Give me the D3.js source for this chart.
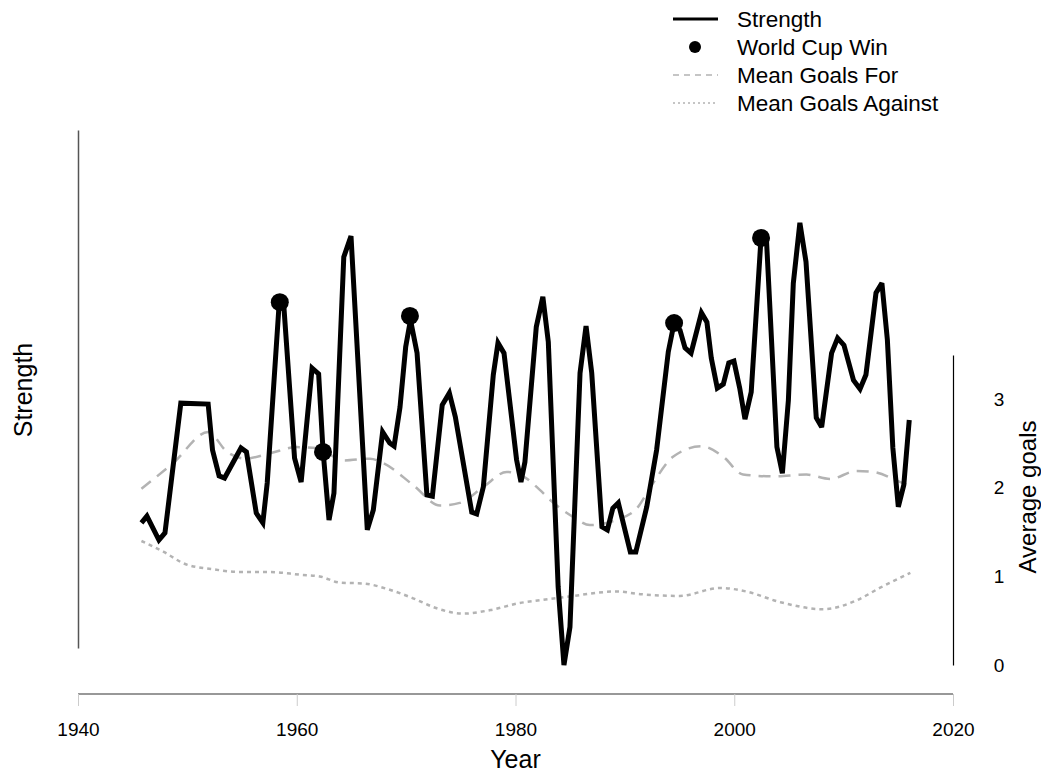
<!DOCTYPE html>
<html>
<head>
<meta charset="utf-8">
<script src="https://cdn.jsdelivr.net/npm/d3@7"></script>
<style>
  html, body { margin: 0; padding: 0; background: #fff; }
  svg { display: block; font-family: "Liberation Sans", Arial, sans-serif; }
</style>
</head>
<body>
<svg id="chart" width="1041" height="772"></svg>
<script>
// ---- Data ----
const strengthYears = [1945.8,1946.3,1947.4,1947.95,1949.4,1951.9,1952.3,1952.9,1953.4,1954.9,1955.4,1956.3,1956.9,1957.3,1958.4,1958.8,1959.8,1960.4,1961.4,1962.0,1962.4,1962.95,1963.4,1964.3,1964.96,1966.45,1967.0,1967.85,1968.5,1968.9,1969.44,1969.96,1970.4,1971.0,1971.9,1972.4,1973.3,1973.95,1974.5,1976.0,1976.45,1977.06,1977.97,1978.4,1978.95,1980.1,1980.5,1980.86,1981.9,1982.5,1983.0,1983.9,1984.43,1984.98,1985.9,1986.45,1986.97,1987.9,1988.4,1988.9,1989.4,1990.5,1991.0,1992.0,1992.9,1993.97,1994.5,1995.04,1995.5,1996.05,1997.0,1997.5,1997.9,1998.45,1999.0,1999.5,1999.97,2000.5,2000.98,2001.55,2002.45,2002.96,2003.9,2004.4,2004.95,2005.4,2006.0,2006.56,2007.5,2007.99,2008.9,2009.45,2010.03,2010.9,2011.5,2012.04,2012.96,2013.5,2014.0,2014.5,2015.0,2015.5,2016.0];
const strengthValues = [32.1,33.6,28.2,29.8,59.1,58.9,48.5,42.7,42.2,49.0,48.1,34.3,32.1,41.1,81.9,81.7,46.7,41.3,67.0,65.7,48.5,32.7,38.8,92.1,96.8,30.5,35.0,52.6,50.1,49.4,58.2,71.8,77.9,70.4,38.4,38.1,58.7,61.4,56.0,34.5,34.1,40.2,65.5,72.7,70.4,46.3,41.3,45.8,76.3,83.1,72.9,17.6,0.0,8.6,65.9,76.5,65.9,31.2,30.5,35.4,36.6,25.5,25.5,35.7,48.5,70.7,77.2,75.6,71.6,70.4,79.5,77.4,69.3,62.5,63.4,68.2,68.6,62.5,55.5,61.6,96.4,95.3,49.2,43.3,59.8,86.2,99.8,91.0,55.8,53.7,70.4,73.8,72.2,64.3,62.3,65.5,84.0,86.2,73.4,49.0,35.7,40.6,55.3];

const winYears = [1958.45, 1962.4, 1970.35, 1994.5, 2002.45];
const winStrength = [81.9, 48.1, 78.8, 77.2, 96.4];

const goalsForYears = [1945.8,1948.7,1951.9,1953.6,1955.3,1957.55,1960.0,1961.8,1964.3,1966.7,1967.9,1970.66,1973.1,1974.9,1977.06,1979.2,1980.7,1982.2,1983.2,1985.3,1986.8,1989.25,1991.1,1992.3,1994.4,1997.0,1999.0,2000.8,2003.6,2006.6,2008.75,2011.2,2012.7,2015.5,2016.0];
const goalsForValues = [1.99,2.28,2.63,2.41,2.33,2.39,2.46,2.45,2.31,2.33,2.28,2.03,1.80,1.83,2.01,2.18,2.13,1.98,1.86,1.67,1.58,1.64,1.77,2.00,2.35,2.47,2.35,2.15,2.13,2.15,2.10,2.19,2.18,2.05,2.03];

const goalsAgainstYears = [1945.8,1947.8,1949.8,1952.4,1954.8,1957.55,1960.3,1962.1,1963.95,1966.1,1968.5,1970.7,1972.8,1975.2,1977.7,1980.4,1982.2,1984.7,1989.25,1991.4,1995.0,1998.7,2001.1,2004.2,2008.1,2011.2,2013.3,2016.1];
const goalsAgainstValues = [1.40,1.28,1.14,1.08,1.05,1.05,1.02,1.00,0.93,0.92,0.85,0.75,0.64,0.58,0.62,0.70,0.73,0.77,0.83,0.80,0.78,0.87,0.83,0.71,0.63,0.73,0.87,1.04];

const xTicks = [1940, 1960, 1980, 2000, 2020];
const goalTicks = [0, 1, 2, 3];
const legendLabels = ["Strength", "World Cup Win", "Mean Goals For", "Mean Goals Against"];

// ---- Drawing ----
const svg = d3.select("#chart");
const x = d3.scaleLinear().domain([1940, 2020]).range([78, 953]);
const yS = d3.scaleLinear().domain([0, 100]).range([665, 222]);
const yG = d3.scaleLinear().domain([0, 3.5]).range([665, 355]);

const gray = "#b3b3b3";
const fontFam = "Liberation Sans, Arial, sans-serif";

// goals lines
const goalsFor = goalsForYears.map((yr, i) => [yr, goalsForValues[i]]);
const goalsAgainst = goalsAgainstYears.map((yr, i) => [yr, goalsAgainstValues[i]]);
const lineG = d3.line().x(d => x(d[0])).y(d => yG(d[1])).curve(d3.curveMonotoneX);

svg.append("path").datum(goalsFor).attr("d", lineG)
  .attr("fill", "none").attr("stroke", gray).attr("stroke-width", 2.5)
  .attr("stroke-dasharray", "12,8");
svg.append("path").datum(goalsAgainst).attr("d", lineG)
  .attr("fill", "none").attr("stroke", gray).attr("stroke-width", 2.5)
  .attr("stroke-dasharray", "4,4");

// strength line
const strength = strengthYears.map((yr, i) => [yr, strengthValues[i]]);
svg.append("path").datum(strength)
  .attr("d", d3.line().x(d => x(d[0])).y(d => yS(d[1])))
  .attr("fill", "none").attr("stroke", "#000").attr("stroke-width", 5)
  .attr("stroke-linejoin", "miter").attr("stroke-miterlimit", 3);

// world cup wins
svg.selectAll("circle.win").data(winYears.map((yr, i) => [yr, winStrength[i]]))
  .enter().append("circle").attr("class", "win")
  .attr("cx", d => x(d[0])).attr("cy", d => yS(d[1])).attr("r", 9)
  .attr("fill", "#000");

// x axis
const xAxis = svg.append("g").attr("transform", "translate(0,694)")
  .call(d3.axisBottom(x).tickValues(xTicks).tickFormat(d3.format("d")).tickSize(12).tickPadding(17));
xAxis.select(".domain").attr("stroke", "#333").attr("stroke-width", 1.2).attr("d", "M78,0H953");
xAxis.selectAll(".tick line").attr("stroke", "#ccc");
xAxis.selectAll(".tick text").attr("font-size", 19).attr("fill", "#000")
  .attr("font-family", fontFam);

svg.append("text").attr("x", (78 + 953) / 2).attr("y", 768)
  .attr("text-anchor", "middle").attr("font-size", 25).text("Year");

// left axis (no ticks)
const yLeft = d3.scaleLinear().domain([0, 1]).range([648, 130]);
const leftAxis = svg.append("g").attr("transform", "translate(78,0)")
  .call(d3.axisLeft(yLeft).tickValues([]).tickSizeOuter(0));
leftAxis.select(".domain").attr("stroke", "#555").attr("stroke-width", 1.5);
svg.append("text").attr("transform", "translate(32,390) rotate(-90)")
  .attr("text-anchor", "middle").attr("font-size", 25).text("Strength");

// right axis
const rightAxis = svg.append("g").attr("transform", "translate(953,0)")
  .call(d3.axisRight(yG).tickValues(goalTicks).tickFormat(d3.format("d")).tickSize(0).tickPadding(40).tickSizeOuter(0));
rightAxis.select(".domain").attr("stroke", "#000").attr("stroke-width", 1.2);
rightAxis.selectAll(".tick text").attr("font-size", 19).attr("fill", "#000")
  .attr("text-anchor", "middle").attr("x", 46)
  .attr("font-family", fontFam);
svg.append("text").attr("transform", "translate(1036,497) rotate(-90)")
  .attr("text-anchor", "middle").attr("font-size", 24).text("Average goals");

// legend
const legend = svg.append("g");
const ly = [19, 47, 75, 103];
legendLabels.forEach((lab, i) => {
  legend.append("text").attr("x", 737).attr("y", ly[i]).attr("dy", "0.35em")
    .attr("font-size", 22.5).text(lab);
});
legend.append("line").attr("x1", 673).attr("x2", 718).attr("y1", ly[0]).attr("y2", ly[0])
  .attr("stroke", "#000").attr("stroke-width", 3);
legend.append("circle").attr("cx", 695).attr("cy", ly[1]).attr("r", 6).attr("fill", "#000");
legend.append("line").attr("x1", 673).attr("x2", 718).attr("y1", ly[2]).attr("y2", ly[2])
  .attr("stroke", gray).attr("stroke-width", 1.5).attr("stroke-dasharray", "6,5");
legend.append("line").attr("x1", 673).attr("x2", 718).attr("y1", ly[3]).attr("y2", ly[3])
  .attr("stroke", gray).attr("stroke-width", 1.5).attr("stroke-dasharray", "2,3");
</script>
</body>
</html>
